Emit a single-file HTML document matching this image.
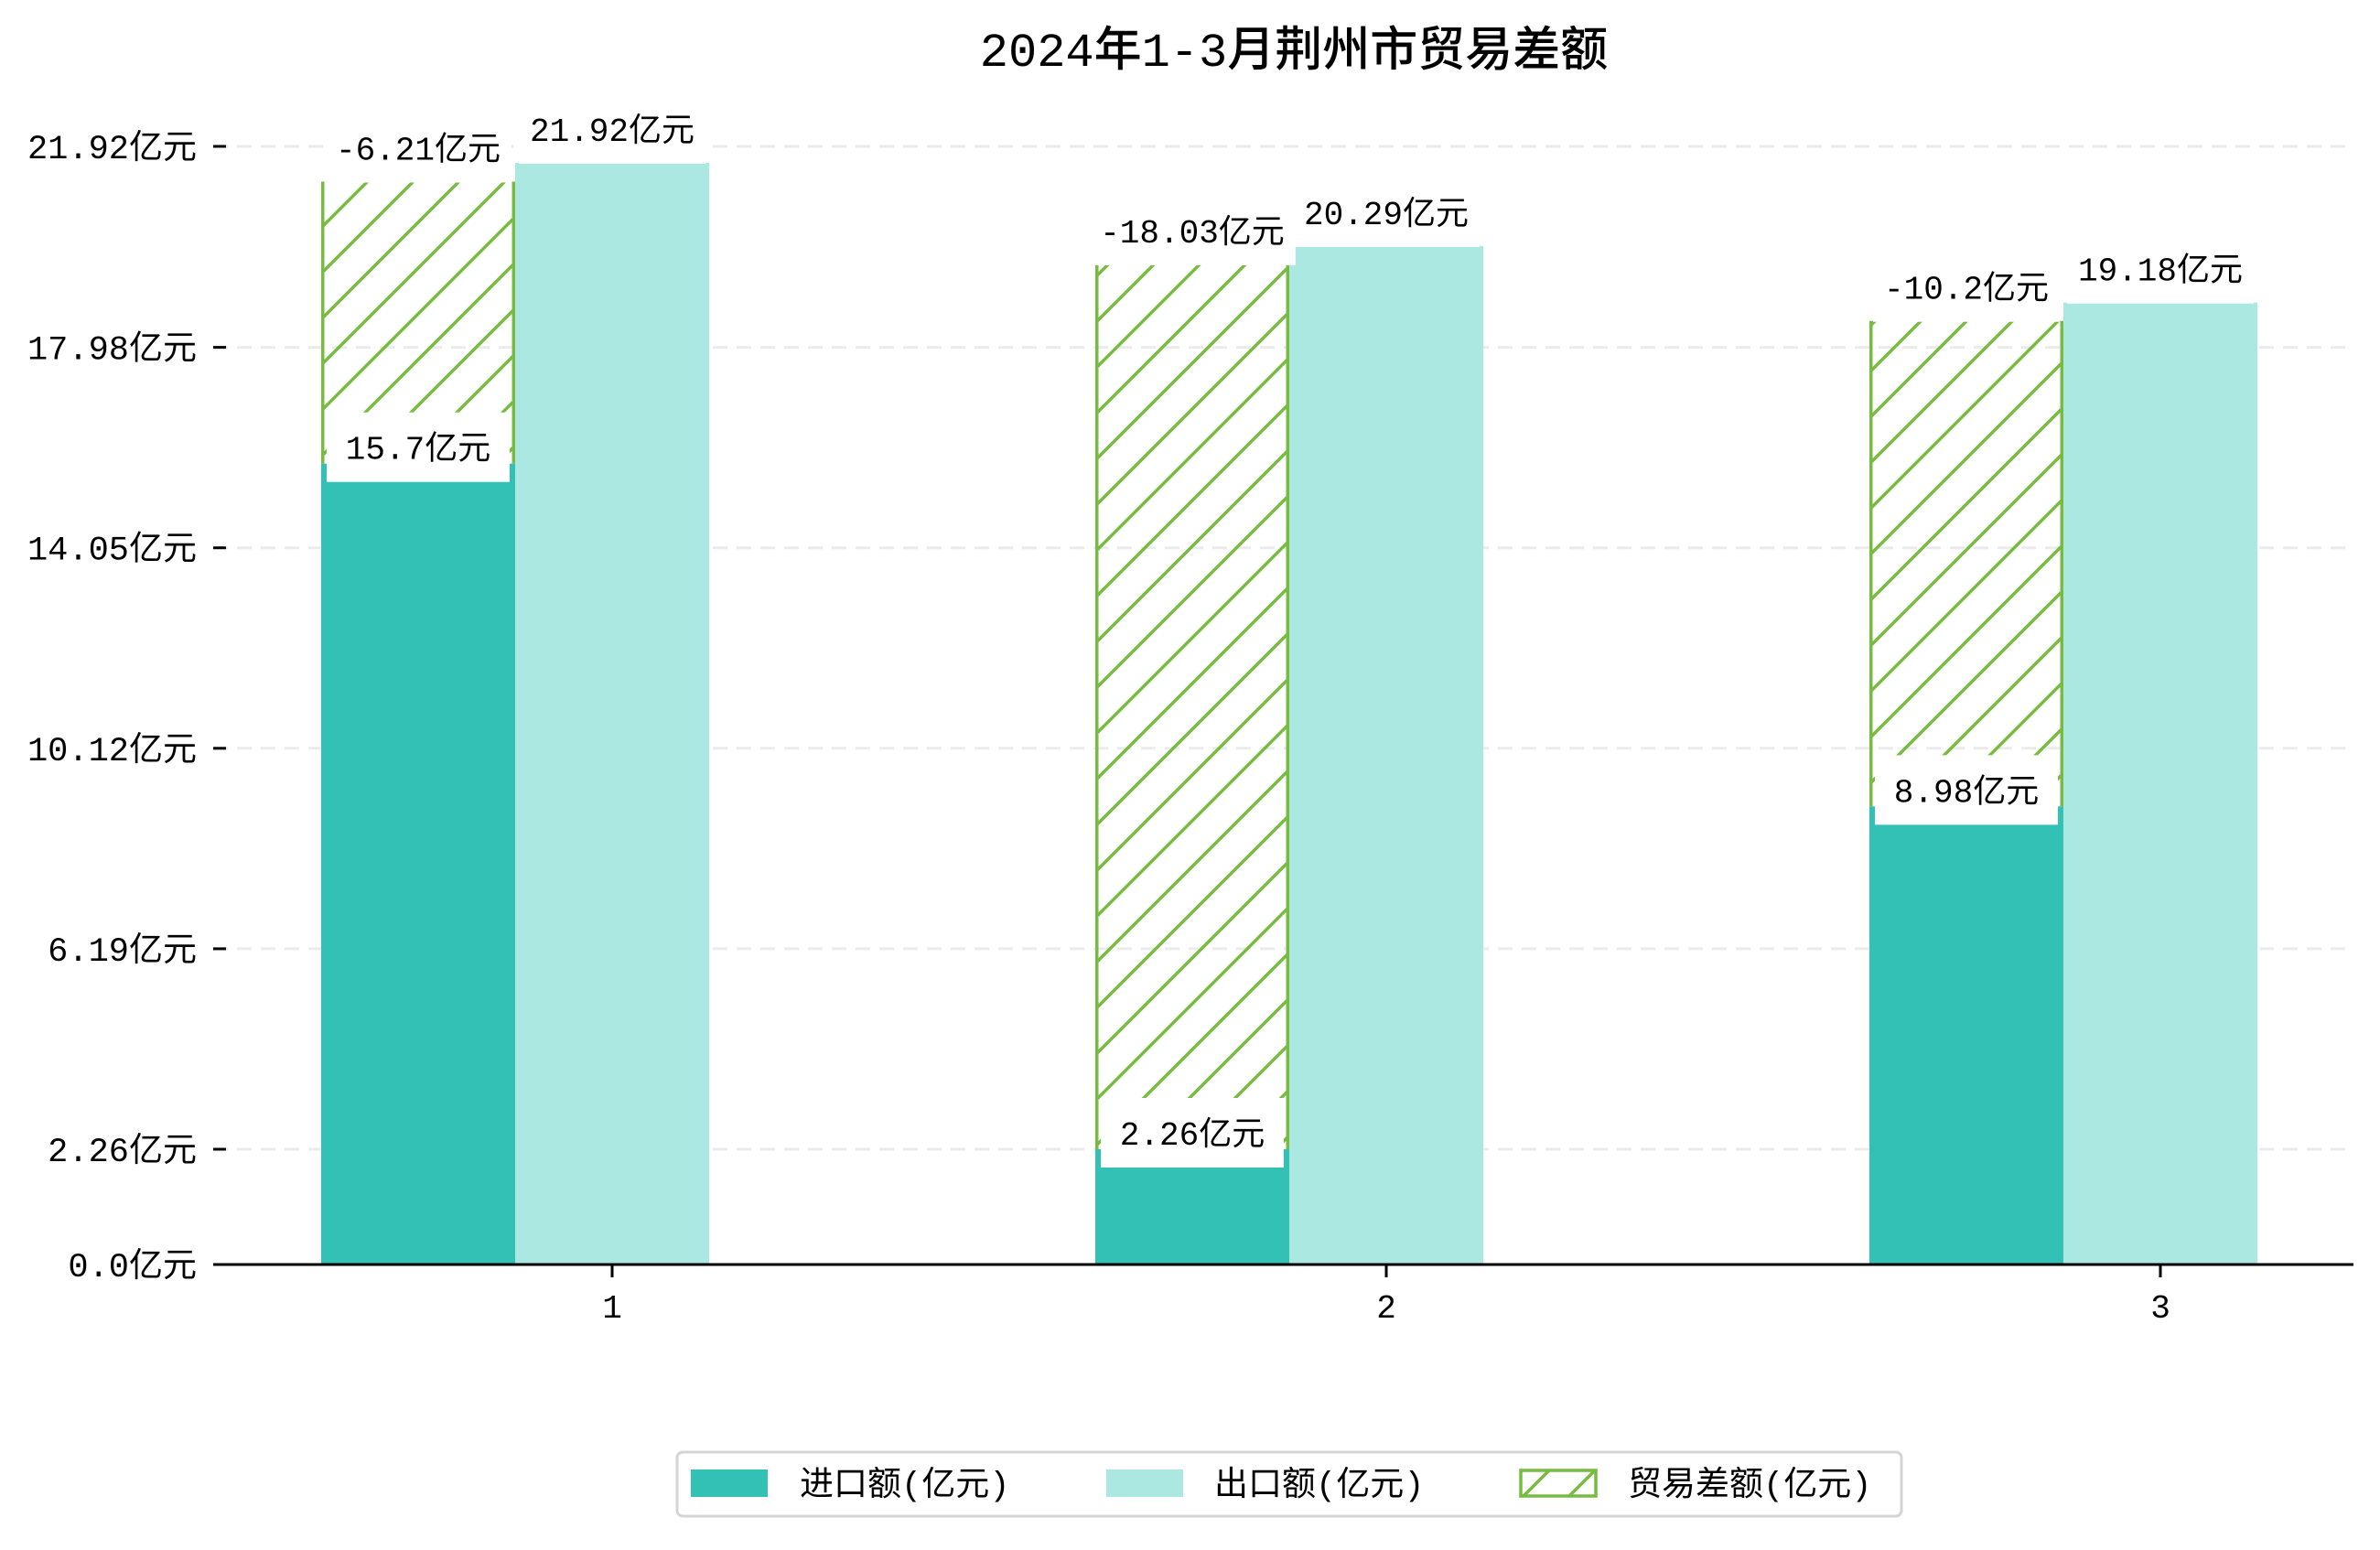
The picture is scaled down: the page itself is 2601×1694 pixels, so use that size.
<!DOCTYPE html>
<html><head><meta charset="utf-8"><style>
html,body{margin:0;padding:0;background:#fff;}
svg text{font-family:"Liberation Mono","Noto Sans CJK SC",monospace;}
</style></head><body>
<svg id="chart" xmlns="http://www.w3.org/2000/svg" width="2601" height="1689" viewBox="0 0 2601 1689">
<defs>
<pattern id="hatch" patternUnits="userSpaceOnUse" width="50" height="50">
<path d="M-12.5,12.5 L12.5,-12.5 M0,50 L50,0 M37.5,62.5 L62.5,37.5" stroke="#77bb41" stroke-width="3.5"/>
</pattern>
</defs>
<text x="1414" y="72" text-anchor="middle" font-size="52" style="font-weight:500">2024年1-3月荆州市贸易差额</text>
<g id="grid"></g><g id="bars"></g><g id="labels"></g><g id="axes"></g>
<g>
<rect x="740" y="1587" width="1338" height="70" rx="6" fill="#fff" stroke="#d4d4d4" stroke-width="3"/>
<rect x="755" y="1606" width="84" height="30" fill="#32c1b4"/>
<text x="874" y="1634" font-size="37">进口额(亿元)</text>
<rect x="1209" y="1606" width="84" height="30" fill="#abe8e2"/>
<text x="1327" y="1634" font-size="37">出口额(亿元)</text>
<rect x="1662" y="1607" width="82" height="28" fill="url(#hatch)" stroke="#77bb41" stroke-width="3.5"/>
<text x="1779" y="1634" font-size="37">贸易差额(亿元)</text>
</g>
</svg>
<script>
const categories = ["1", "2", "3"];
const importValues = [15.7, 2.26, 8.98];
const exportValues = [21.92, 20.29, 19.18];
const balanceValues = [-6.21, -18.03, -10.2];
const yTickValues = [0.0, 2.26, 6.19, 10.12, 14.05, 17.98, 21.92];
const yTickLabels = ["0.0亿元", "2.26亿元", "6.19亿元", "10.12亿元", "14.05亿元", "17.98亿元", "21.92亿元"];

const NS = "http://www.w3.org/2000/svg";
const X0 = 233, X1 = 2572, BASE = 1382, K = 55.75;
const GROUP0 = 669, GSTEP = 846, BW = 212;
function y(v){ return BASE - v * K; }
function xc(i){ return GROUP0 + i * GSTEP; }
function mk(tag, attrs, parent){
  const e = document.createElementNS(NS, tag);
  for (const k in attrs) e.setAttribute(k, attrs[k]);
  parent.appendChild(e); return e;
}
function textW(s){ let w=0; for (const c of s) w += (c.charCodeAt(0) < 256 ? 0.6 : 1) * 36; return w; }
const grid = document.getElementById('grid'), bars = document.getElementById('bars'),
      labels = document.getElementById('labels'), axes = document.getElementById('axes');

yTickValues.forEach((v, i) => {
  const yy = y(v);
  if (i > 0) {
    const g = mk('line', {x1: X0, x2: X1, y1: yy, y2: yy, stroke: '#ebebeb', 'stroke-width': 3, 'stroke-dasharray': '16,10'}, grid);
    
    
  }
  const t = mk('line', {x1: X0, x2: X0 + 14, y1: yy, y2: yy, stroke: '#000', 'stroke-width': 3}, axes);
  
  
  const lb = mk('text', {x: 215, y: yy + 13, 'text-anchor': 'end', 'font-size': 37}, axes);
  lb.textContent = yTickLabels[i];
  
  
});
const ax = mk('line', {x1: X0, x2: X1, y1: BASE, y2: BASE, stroke: '#000', 'stroke-width': 3}, axes);



function labelBox(cx, cy, s, minW){
  const w = Math.max(textW(s) + 24, minW || 0);
  const r = mk('rect', {x: cx - w/2, y: cy - 38, width: w, height: 76, fill: '#fff'}, labels);
  
  
  const t = mk('text', {x: cx, y: cy + 13, 'text-anchor': 'middle', 'font-size': 36}, labels);
  t.textContent = s;
  
  
}

categories.forEach((c, i) => {
  const cx = xc(i);
  const ix = cx - 318, ex = cx - 106;
  const iTop = y(importValues[i]);
  const im = mk('rect', {x: ix, y: iTop, width: BW + 1, height: BASE - iTop, fill: '#32c1b4'}, bars);
  
  
  const eTop = y(exportValues[i]) + 18;
  const ex_ = mk('rect', {x: ex, y: eTop, width: BW, height: BASE - eTop, fill: '#abe8e2'}, bars);
  
  
  const hTop = y(importValues[i] + Math.abs(balanceValues[i])) + 38;
  const hb = mk('rect', {x: ix, y: hTop, width: BW, height: iTop - hTop, fill: 'url(#hatch)'}, bars);
  
  
  [ix + 1.75, ix + BW - 1.75].forEach(xx => {
    const e = mk('line', {x1: xx, x2: xx, y1: hTop, y2: iTop, stroke: '#77bb41', 'stroke-width': 3.5}, bars);
    
    
  });
  const tk = mk('line', {x1: cx, x2: cx, y1: BASE, y2: BASE + 14, stroke: '#000', 'stroke-width': 3}, axes);
  
  
  const xl = mk('text', {x: cx, y: BASE + 58, 'text-anchor': 'middle', 'font-size': 36}, axes);
  xl.textContent = c;
  
  
  labelBox(ex + BW/2, eTop - 37, exportValues[i] + '亿元');
  labelBox(ix + BW/2, hTop - 37, balanceValues[i] + '亿元');
  labelBox(ix + BW/2, iTop - 18, importValues[i] + '亿元', BW - 12);
});
</script>
</body></html>
